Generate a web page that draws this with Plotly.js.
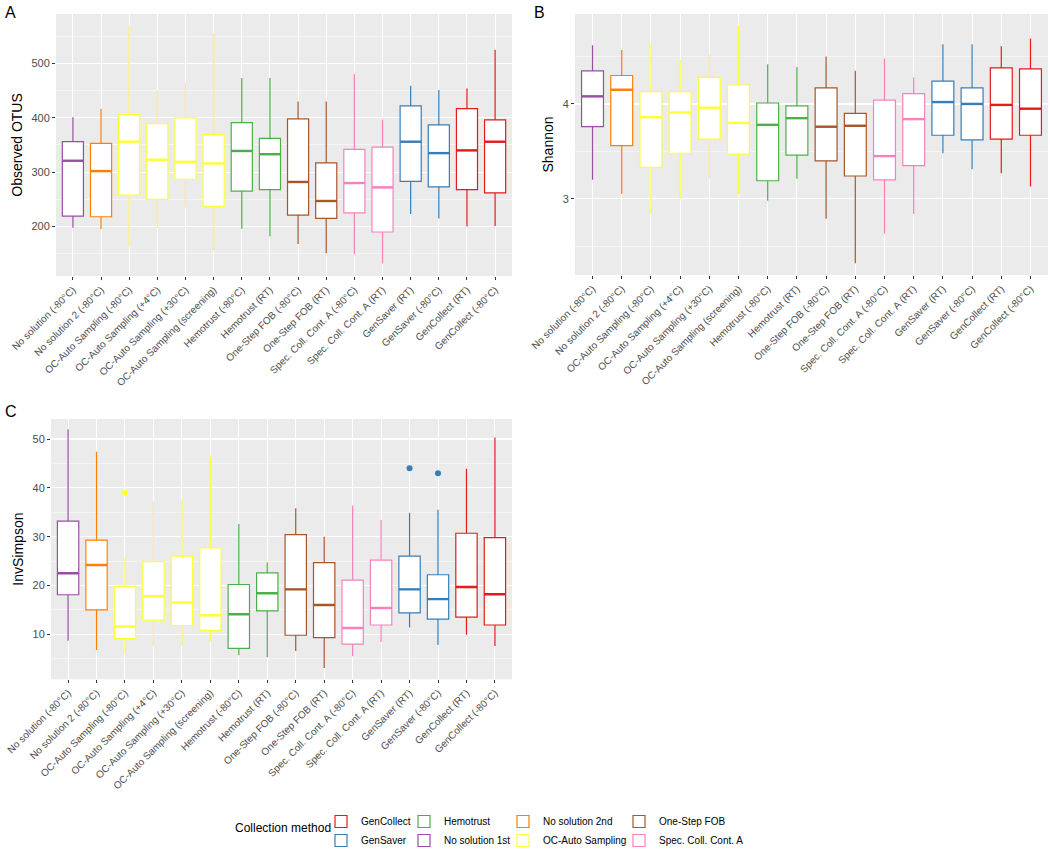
<!DOCTYPE html>
<html>
<head>
<meta charset="utf-8">
<script src="https://cdn.plot.ly/plotly-3.0.1.min.js"></script>
<style>html,body{margin:0;padding:0;background:#fff}#chart{width:1050px;height:855px}</style>
</head>
<body>
<div id="chart"></div>
<script>
// categories on the x axis (same order in all three panels)
var categories = [
  'No solution (-80°C)', 'No solution 2 (-80°C)', 'OC-Auto Sampling (-80°C)', 'OC-Auto Sampling (+4°C)',
  'OC-Auto Sampling (+30°C)', 'OC-Auto Sampling (screening)', 'Hemotrust (-80°C)', 'Hemotrust (RT)',
  'One-Step FOB (-80°C)', 'One-Step FOB (RT)', 'Spec. Coll. Cont. A (-80°C)', 'Spec. Coll. Cont. A (RT)',
  'GenSaver (RT)', 'GenSaver (-80°C)', 'GenCollect (RT)', 'GenCollect (-80°C)'
];
// collection method for each category
var catGroup = [
  'No solution 1st', 'No solution 2nd', 'OC-Auto Sampling', 'OC-Auto Sampling',
  'OC-Auto Sampling', 'OC-Auto Sampling', 'Hemotrust', 'Hemotrust',
  'One-Step FOB', 'One-Step FOB', 'Spec. Coll. Cont. A', 'Spec. Coll. Cont. A',
  'GenSaver', 'GenSaver', 'GenCollect', 'GenCollect'
];
var groupNames = ['GenCollect', 'GenSaver', 'Hemotrust', 'No solution 1st',
  'No solution 2nd', 'OC-Auto Sampling', 'One-Step FOB', 'Spec. Coll. Cont. A'];
var groupColors = ['#E41A1C', '#377EB8', '#4DAF4A', '#984EA3',
  '#FF7F00', '#FFFF33', '#A65628', '#F781BF'];

// A: Observed OTUS
var otuLow  = [198, 195, 163, 198, 235, 156, 196, 182, 168, 151, 149, 132, 223, 215, 200, 201];
var otuQ1   = [219, 218, 258, 250, 287, 237, 265, 268, 221, 215, 225, 190, 283, 273, 268, 262];
var otuMed  = [321, 302, 356, 323, 319, 316, 339, 333, 282, 247, 280, 272, 356, 335, 340, 356];
var otuQ3   = [356, 353, 406, 389, 400, 369, 391, 362, 398, 317, 342, 346, 422, 387, 417, 396];
var otuHigh = [401, 416, 570, 451, 463, 556, 473, 473, 430, 430, 480, 397, 459, 451, 454, 525];

// B: Shannon
var shaLow  = [3.20, 3.05, 2.84, 3.00, 3.21, 3.05, 2.98, 3.21, 2.79, 2.32, 2.63, 2.84, 3.48, 3.31, 3.27, 3.13];
var shaQ1   = [3.76, 3.56, 3.33, 3.48, 3.63, 3.47, 3.19, 3.46, 3.40, 3.24, 3.20, 3.35, 3.67, 3.62, 3.63, 3.67];
var shaMed  = [4.08, 4.15, 3.86, 3.91, 3.96, 3.80, 3.78, 3.85, 3.76, 3.77, 3.45, 3.84, 4.02, 4.00, 3.99, 3.95];
var shaQ3   = [4.35, 4.30, 4.13, 4.13, 4.28, 4.20, 4.01, 3.98, 4.17, 3.90, 4.04, 4.11, 4.24, 4.17, 4.38, 4.37];
var shaHigh = [4.62, 4.57, 4.64, 4.47, 4.52, 4.83, 4.42, 4.39, 4.50, 4.35, 4.48, 4.28, 4.63, 4.63, 4.61, 4.69];

// C: InvSimpson
var invLow  = [8.7, 6.8, 6.1, 7.6, 7.6, 8.6, 5.7, 5.3, 6.6, 3.1, 5.5, 8.4, 11.4, 7.8, 9.9, 7.6];
var invQ1   = [18.1, 15.0, 9.1, 12.9, 11.8, 10.8, 7.1, 14.8, 9.8, 9.3, 8.0, 11.9, 14.4, 13.1, 13.5, 11.9];
var invMed  = [22.5, 24.2, 11.6, 17.8, 16.5, 13.9, 14.1, 18.4, 19.2, 16.0, 11.3, 15.4, 19.2, 17.2, 19.7, 18.2];
var invQ3   = [33.2, 29.3, 19.8, 24.9, 26.0, 27.7, 20.2, 22.6, 30.4, 24.7, 21.1, 25.2, 26.0, 22.2, 30.7, 29.8];
var invHigh = [52.0, 47.4, 25.8, 37.2, 37.5, 46.5, 32.6, 24.7, 35.8, 30.0, 36.4, 33.4, 34.9, 35.5, 43.9, 50.3];
// outliers in panel C
var invOutCat = ['OC-Auto Sampling (-80°C)', 'GenSaver (RT)', 'GenSaver (-80°C)'];
var invOutVal = [39.0, 44.0, 43.0];

var W = 1050, H = 855;
var FONT = 'Liberation Sans, Arial, sans-serif';

var panels = [
  {xa: 'x', ya: 'y', low: otuLow, q1: otuQ1, med: otuMed, q3: otuQ3, high: otuHigh},
  {xa: 'x2', ya: 'y2', low: shaLow, q1: shaQ1, med: shaMed, q3: shaQ3, high: shaHigh},
  {xa: 'x3', ya: 'y3', low: invLow, q1: invQ1, med: invMed, q3: invQ3, high: invHigh}
];
var legendIds = ['legend', 'legend2', 'legend3', 'legend4'];

function colorOf(cat) {
  return groupColors[groupNames.indexOf(catGroup[categories.indexOf(cat)])];
}

var traces = [];
var shapes = [];
panels.forEach(function(p, pi) {
  groupNames.forEach(function(g, gi) {
    var idx = [];
    catGroup.forEach(function(c, i) { if (c === g) idx.push(i); });
    function pick(arr) { return idx.map(function(i) { return arr[i]; }); }
    traces.push({
      type: 'box',
      name: g,
      legendgroup: g,
      legend: legendIds[Math.floor(gi / 2)],
      showlegend: pi === 0,
      x: pick(categories),
      lowerfence: pick(p.low),
      q1: pick(p.q1),
      median: pick(p.med),
      q3: pick(p.q3),
      upperfence: pick(p.high),
      boxpoints: false,
      width: 0.75,
      whiskerwidth: 0,
      fillcolor: 'white',
      line: {color: groupColors[gi], width: 1.2},
      xaxis: p.xa,
      yaxis: p.ya,
      hoverinfo: 'skip'
    });
  });
  // thicker median bars, like ggplot's fatten
  categories.forEach(function(c, i) {
    shapes.push({
      type: 'line', xref: p.xa, yref: p.ya,
      x0: c, x1: c, x0shift: -0.375, x1shift: 0.375,
      y0: p.med[i], y1: p.med[i],
      line: {color: colorOf(c), width: 2.4}
    });
  });
});

// outlier dots
traces.push({
  type: 'scatter',
  mode: 'markers',
  x: invOutCat,
  y: invOutVal,
  xaxis: 'x3',
  yaxis: 'y3',
  showlegend: false,
  marker: {size: 6, color: invOutCat.map(colorOf)},
  hoverinfo: 'skip'
});

function xAxis(x0, x1, anchor) {
  return {
    domain: [x0 / W, x1 / W], anchor: anchor, type: 'category',
    categoryorder: 'array', categoryarray: categories, range: [-0.6, 15.6],
    tickangle: -45, tickfont: {size: 10, color: '#4D4D4D', family: FONT},
    ticks: 'outside', ticklen: 3, tickcolor: '#333', tickwidth: 1,
    showgrid: true, gridcolor: '#fff', gridwidth: 1, zeroline: false, showline: false,
    fixedrange: true
  };
}
function yAxis(y0, y1, anchor, range, dtick, minor, title) {
  return {
    domain: [1 - y1 / H, 1 - y0 / H], anchor: anchor, range: range, dtick: dtick, tick0: 0,
    tickfont: {size: 11, color: '#4D4D4D', family: FONT},
    ticks: 'outside', ticklen: 3, tickcolor: '#333', tickwidth: 1,
    showgrid: true, gridcolor: '#fff', gridwidth: 1.1, zeroline: false, showline: false,
    minor: {dtick: minor, tick0: 0, showgrid: true, gridcolor: '#fff', gridwidth: 0.5, ticks: ''},
    title: {text: title, font: {size: 14, color: '#000', family: FONT}, standoff: 5},
    fixedrange: true
  };
}
function legendAt(xpx) {
  return {
    x: xpx / W, xanchor: 'left', y: 1 - 813 / H, yanchor: 'top', orientation: 'v',
    font: {size: 10, color: '#000', family: FONT}, bgcolor: 'rgba(0,0,0,0)',
    tracegroupgap: 0, itemclick: false, itemdoubleclick: false
  };
}

var layout = {
  width: W, height: H,
  margin: {l: 0, r: 0, t: 0, b: 0},
  paper_bgcolor: 'white',
  plot_bgcolor: '#EBEBEB',
  font: {family: FONT},
  boxmode: 'overlay',
  xaxis: xAxis(56, 512, 'y'),
  yaxis: yAxis(14, 278, 'x', [109, 591], 100, 50, 'Observed OTUS'),
  xaxis2: xAxis(575, 1048, 'y2'),
  yaxis2: yAxis(14, 277, 'x2', [2.195, 4.95], 1, 0.5, 'Shannon'),
  xaxis3: xAxis(51, 512, 'y3'),
  yaxis3: yAxis(422, 684, 'x3', [0.8, 54.1], 10, 5, 'InvSimpson'),
  legend: legendAt(321),
  legend2: legendAt(404),
  legend3: legendAt(503),
  legend4: legendAt(619),
  shapes: shapes,
  annotations: [
    {text: 'A', x: 3 / W, y: 1 - 2 / H, xref: 'paper', yref: 'paper', xanchor: 'left', yanchor: 'top', showarrow: false, font: {size: 16, color: '#000'}},
    {text: 'B', x: 532 / W, y: 1 - 2 / H, xref: 'paper', yref: 'paper', xanchor: 'left', yanchor: 'top', showarrow: false, font: {size: 16, color: '#000'}},
    {text: 'C', x: 3 / W, y: 1 - 404 / H, xref: 'paper', yref: 'paper', xanchor: 'left', yanchor: 'top', showarrow: false, font: {size: 16, color: '#000'}},
    {text: 'Collection method', x: 233 / W, y: 1 - 834 / H, xref: 'paper', yref: 'paper', xanchor: 'left', yanchor: 'middle', showarrow: false, font: {size: 12, color: '#000'}}
  ]
};

Plotly.newPlot('chart', traces, layout, {displayModeBar: false, staticPlot: true});
</script>
</body>
</html>
